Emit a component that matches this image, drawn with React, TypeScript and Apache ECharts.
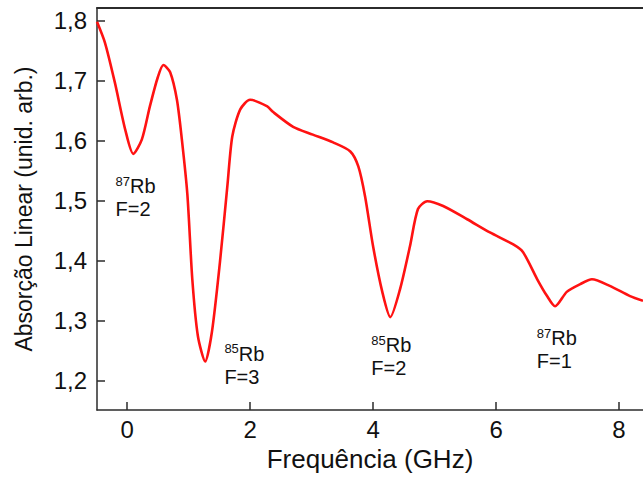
import React, { useEffect, useRef } from "react";
import * as echarts from "echarts";

// Frequency (GHz) and linear absorption (arb. units)
const freq = [
  -0.49, -0.36, -0.2, -0.03, 0.1, 0.24, 0.37, 0.5, 0.59, 0.7, 0.81, 0.89, 0.98, 1.06, 1.15, 1.27,
  1.38, 1.51, 1.63, 1.71, 1.84, 2.0, 2.28, 2.37, 2.7, 3.02, 3.35, 3.63, 3.76, 3.87, 4.0, 4.15,
  4.28, 4.44, 4.6, 4.73, 4.88, 5.14, 5.53, 5.9, 6.28, 6.44, 6.67, 6.83, 6.96, 7.15, 7.37, 7.56,
  7.85, 8.18, 8.39,
];
const absorption = [
  1.798, 1.763, 1.697, 1.618, 1.578, 1.602, 1.657, 1.706, 1.726, 1.714, 1.668, 1.602, 1.51, 1.369,
  1.275, 1.232, 1.282, 1.398, 1.524, 1.607, 1.652, 1.668, 1.657, 1.648, 1.623, 1.61, 1.597, 1.582,
  1.557, 1.507, 1.424, 1.348, 1.306, 1.353, 1.424, 1.486, 1.499, 1.491, 1.469, 1.447, 1.427, 1.414,
  1.369, 1.341, 1.324, 1.348, 1.361, 1.369, 1.358, 1.341, 1.333,
];

const xTicks = [0, 2, 4, 6, 8];
const yTicks = [1.2, 1.3, 1.4, 1.5, 1.6, 1.7, 1.8];

// Peak annotations: isotope mass number, F level, anchor (top-left) in data coordinates
const peakMass = ["87", "85", "85", "87"];
const peakF = ["F=2", "F=3", "F=2", "F=1"];
const peakX = [-0.18, 1.59, 3.98, 6.67];
const peakY = [1.542, 1.263, 1.277, 1.289];

export default function App() {
  const ref = useRef<HTMLDivElement>(null);
  useEffect(() => {
    if (!ref.current) return;
    const chart = echarts.init(ref.current, null, { renderer: "svg" });
    const font = "Liberation Sans, Arial, sans-serif";
    const axisColor = "#2b2b2b";
    const textColor = "#111111";
    chart.setOption({
      animation: false,
      grid: { left: 97, right: 0, top: 8, bottom: 66 },
      xAxis: [
        {
          type: "value",
          min: -0.49,
          max: 8.39,
          name: "Frequência (GHz)",
          nameLocation: "middle",
          nameGap: 22,
          nameTextStyle: { fontFamily: font, fontSize: 26, color: textColor },
          axisLine: { show: true, onZero: false, lineStyle: { color: axisColor, width: 1.5 } },
          axisTick: { show: true, inside: true, length: 8, customValues: xTicks, lineStyle: { color: axisColor, width: 1.5 } },
          axisLabel: {
            customValues: xTicks,
            margin: 7,
            fontFamily: font,
            fontSize: 24,
            color: textColor,
            formatter: (v: number) => String(v),
          },
          splitLine: { show: false },
        },
        {
          type: "value",
          position: "top",
          min: -0.49,
          max: 8.39,
          axisLine: { show: true, onZero: false, lineStyle: { color: axisColor, width: 2 } },
          axisTick: { show: false },
          axisLabel: { show: false },
          splitLine: { show: false },
        },
      ],
      yAxis: {
        type: "value",
        min: 1.151,
        max: 1.821,
        name: "Absorção Linear (unid. arb.)",
        nameLocation: "middle",
        nameGap: 62,
        nameTextStyle: { fontFamily: font, fontSize: 23, color: textColor },
        axisLine: { show: true, onZero: false, lineStyle: { color: axisColor, width: 1.5 } },
        axisTick: { show: true, inside: true, length: 8, customValues: yTicks, lineStyle: { color: axisColor, width: 1.5 } },
        axisLabel: {
          customValues: yTicks,
          margin: 10,
          fontFamily: font,
          fontSize: 24,
          color: textColor,
          formatter: (v: number) => v.toFixed(1).replace(".", ","),
        },
        splitLine: { show: false },
      },
      series: [
        {
          type: "line",
          data: freq.map((x, i) => [x, absorption[i]]),
          showSymbol: false,
          smooth: 0.25,
          lineStyle: { color: "#ff1212", width: 2.6 },
          clip: true,
          z: 3,
        },
        {
          type: "scatter",
          symbolSize: 1,
          itemStyle: { color: "#ffffff", opacity: 0 },
          data: peakX.map((x, i) => [x, peakY[i], peakMass[i], peakF[i]]),
          label: {
            show: true,
            position: [0, 0],
            align: "left",
            verticalAlign: "top",
            color: textColor,
            opacity: 1,
            formatter: (p: any) => `{sup|${p.data[2]}}{b|Rb}\n{b|${p.data[3]}}`,
            rich: {
              sup: { fontFamily: font, fontSize: 13, color: textColor, verticalAlign: "top", lineHeight: 23 },
              b: { fontFamily: font, fontSize: 20, color: textColor, lineHeight: 23 },
            },
          },
          emphasis: { disabled: true },
          z: 4,
        },
      ],
    });
    return () => chart.dispose();
  }, []);
  return <div ref={ref} style={{ position: "fixed", left: 0, top: 0, width: 643, height: 477, background: "#fff" }} />;
}
